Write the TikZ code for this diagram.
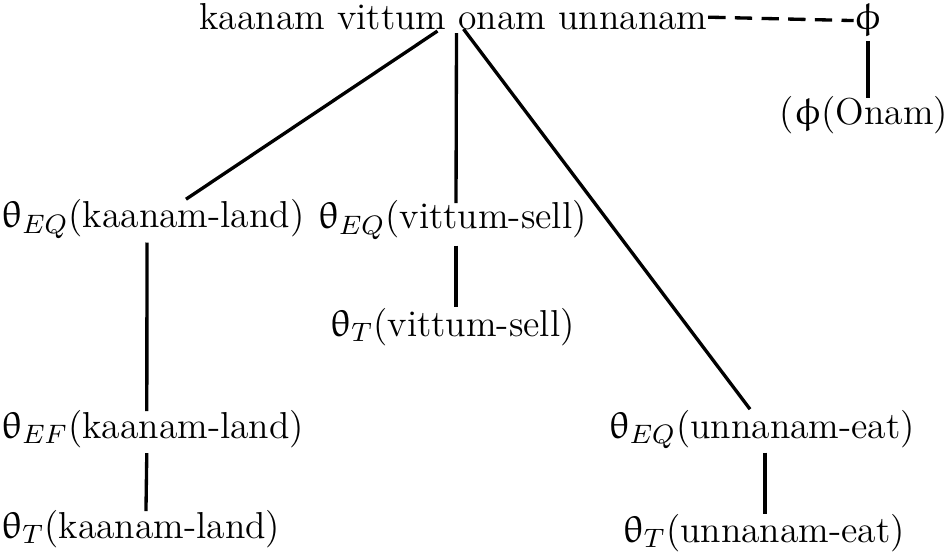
\documentclass[tikz,border=0pt]{standalone}
\usepackage{upgreek}
\usetikzlibrary{calc}
\begin{document}
\begin{tikzpicture}[x=0.3pt,y=-0.3pt,
  lbl/.style={inner sep=0pt,anchor=base,font=\fontsize{11.25}{13}\selectfont},
  llbl/.style={lbl,anchor=base west},
  conn/.style={line width=1pt},
  dconn/.style={line width=1pt,dash pattern=on 5.2pt off 2.8pt}]
\useasboundingbox (0,0) rectangle (945,553);
\node[lbl] (top) at (453.5,30) {kaanam vittum onam unnanam};
\node[lbl] (phi) at (868,30) {$\upphi$};
\node[lbl] (phio) at (864,125) {($\upphi$(Onam)};
\node[llbl] (keq) at (1,228) {$\uptheta_{EQ}$(kaanam-land)};
\node[lbl] (veq) at (452.5,229) {$\uptheta_{EQ}$(vittum-sell)};
\node[lbl] (vt) at (452.5,336) {$\uptheta_{T}$(vittum-sell)};
\node[llbl] (kef) at (1,438) {$\uptheta_{EF}$(kaanam-land)};
\node[llbl] (kt) at (1,538) {$\uptheta_{T}$(kaanam-land)};
\node[lbl] (ueq) at (762,438) {$\uptheta_{EQ}$(unnanam-eat)};
\node[lbl] (ut) at (764,542) {$\uptheta_{T}$(unnanam-eat)};
% connectors
\draw[dconn] (top.east) -- (phi.west);
\draw[conn] ($(phi.south)+(0,3)$) -- ($(phio.north)+(4,2)$);
\draw[conn] ($(top.south)+(-16,0)$) -- ($(keq.north)+(33,0)$);
\draw[conn] ($(top.south)+(3,2)$) -- ($(veq.north)+(3.5,3)$);
\draw[conn] ($(top.south)+(10,-2)$) -- ($(ueq.north)+(-12,0)$);
\draw[conn] ($(veq.south)+(3.5,5)$) -- ($(vt.north)+(3.5,0)$);
\draw[conn] ($(keq.south)+(-6,3)$) -- ($(kef.north)+(-6,2)$);
\draw[conn] ($(kef.south)+(-6,5)$) -- ($(kt.north)+(5,2)$);
\draw[conn] ($(ueq.south)+(3,3)$) -- ($(ut.north)+(1,1)$);
\end{tikzpicture}
\end{document}
